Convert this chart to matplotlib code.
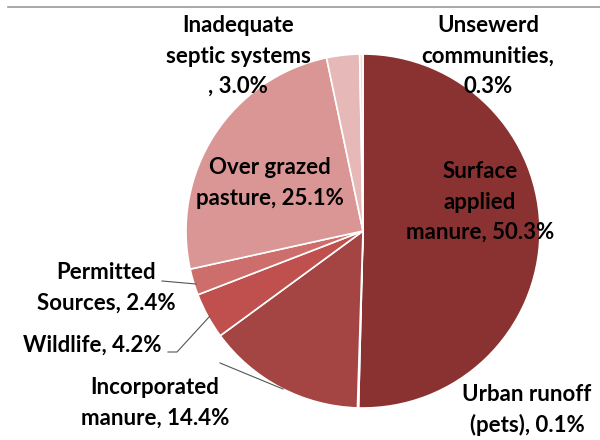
import matplotlib
matplotlib.use('Agg')
import matplotlib.pyplot as plt
from matplotlib.lines import Line2D

# slice data, clockwise from 12 o'clock
labels = ['Surface\napplied\nmanure, 50.3%', 'Urban runoff\n(pets), 0.1%',
          'Incorporated\nmanure, 14.4%', 'Wildlife, 4.2%',
          'Permitted\nSources, 2.4%', 'Over grazed\npasture, 25.1%',
          'Inadequate\nseptic systems\n, 3.0%', 'Unsewerd\ncommunities,\n0.3%']
values = [50.3, 0.1, 14.4, 4.2, 2.4, 25.1, 3.0, 0.3]
colors = ['#8A3231', '#953735', '#A44443', '#C0504D', '#CD6E6C',
          '#D99694', '#E6B9B8', '#F2DCDB']

W, H = 600, 440
fig = plt.figure(figsize=(6, 4.4), dpi=100)
ax = fig.add_axes([0, 0, 1, 1])

cx, cy, r = 363, H - 231, 177
ax.pie(values, colors=colors, startangle=90, counterclock=False,
       center=(cx, cy), radius=r, frame=True,
       wedgeprops=dict(edgecolor='white', linewidth=1.2))
ax.set_xlim(0, W)
ax.set_ylim(0, H)
ax.set_aspect('equal')
ax.axis('off')

font = dict(family=['Lato', 'DejaVu Sans'], fontweight='bold', fontsize=16,
            color='black', ha='center', va='center', linespacing=1.55)

# label positions in pixel coords (x, y from top)
pos = [(480, 202), (527, 410), (155, 403), (92, 345), (106, 288),
       (270, 183), (238, 56), (488, 56)]
for lab, (x, y) in zip(labels, pos):
    ax.text(x, H - y, lab, **font)

# leader lines
lc = '#555555'
ax.plot([162, 196], [H - 281, H - 284], color=lc, lw=0.8)
ax.plot([168, 177, 210], [H - 352, H - 352, H - 316], color=lc, lw=0.8)
ax.plot([220, 283], [H - 363, H - 389], color=lc, lw=0.8)

# grey rule at top
fig.add_artist(Line2D([8 / W, 1], [1 - 7 / H, 1 - 7 / H], color='#999999', lw=1.2))

fig.savefig('out.png', dpi=100)
